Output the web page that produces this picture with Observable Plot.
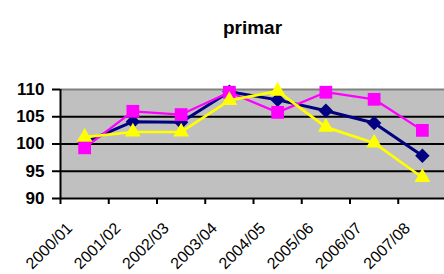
<!DOCTYPE html>
<html><head><meta charset="utf-8">
<script src="https://cdn.jsdelivr.net/npm/d3@7"></script>
<script src="https://cdn.jsdelivr.net/npm/@observablehq/plot@0.6"></script>
<style>body{margin:0;background:#fff;} svg{display:block;}</style>
</head><body><div id="chart"></div>
<script>
const title = "primar";
const categories = ["2000/01","2001/02","2002/03","2003/04","2004/05","2005/06","2006/07","2007/08"];
const navySeries = [100.3,104.1,104.0,109.6,108.1,106.1,103.85,97.85];
const magentaSeries = [99.3,106.0,105.4,109.5,105.8,109.5,108.2,102.5];
const yellowSeries = [101.25,102.2,102.2,108.0,109.7,103.1,100.2,93.85];
const yTicks = [90,95,100,105,110];

const pos = (d,i)=>i+0.5;
const series = [
  {data:navySeries, color:"#000080", symbol:"diamond2", r:6.5, w:3},
  {data:magentaSeries, color:"#FF00FF", symbol:"square", r:7.2, w:2.3},
  {data:yellowSeries, color:"#FFFF00", symbol:"triangle", r:5.9, w:2.7}
];
const seriesMarks = series.flatMap(s=>[
  Plot.line(s.data,{x:pos,y:d=>d,stroke:s.color,strokeWidth:s.w}),
  Plot.dot(s.data,{x:pos,y:d=>d,fill:s.color,stroke:"none",symbol:s.symbol,r:s.r})
]);

const chart = Plot.plot({
  width:444, height:274,
  marginTop:89, marginBottom:76, marginLeft:60, marginRight:0,
  style:{fontFamily:"'Liberation Sans', Arial, sans-serif", background:"#fff", color:"#000"},
  x:{type:"linear", domain:[0,categories.length], range:[60,446]},
  y:{domain:[90,110]},
  marks:[
    Plot.frame({fill:"#c0c0c0", stroke:null}),
    Plot.ruleY([95,100,105],{stroke:"#000",strokeWidth:2}),
    Plot.ruleY([110],{stroke:"#808080",strokeWidth:2}),
    Plot.ruleX([0],{stroke:"#000",strokeWidth:2}),
    Plot.ruleY([90],{stroke:"#000",strokeWidth:2}),
    Plot.axisY(yTicks,{anchor:"left",tickSize:8,tickPadding:8,fontSize:17,fontWeight:"bold",strokeWidth:2,label:null}),
    Plot.axisX(d3.range(categories.length),{anchor:"bottom",tickSize:6,strokeWidth:2,tickFormat:()=>"",label:null}),
    Plot.axisX(categories.map((c,i)=>i+0.5),{anchor:"bottom",tickSize:0,tickPadding:27,tickRotate:-45,fontSize:16,dx:-15,tickFormat:d=>categories[Math.round(d-0.5)],label:null}),
    ...seriesMarks,
    Plot.text([title],{frameAnchor:"top",dy:-56,lineAnchor:"bottom",fontSize:19,fontWeight:"bold",fill:"#000"})
  ]
});
document.getElementById("chart").appendChild(chart);
</script>
</body></html>
